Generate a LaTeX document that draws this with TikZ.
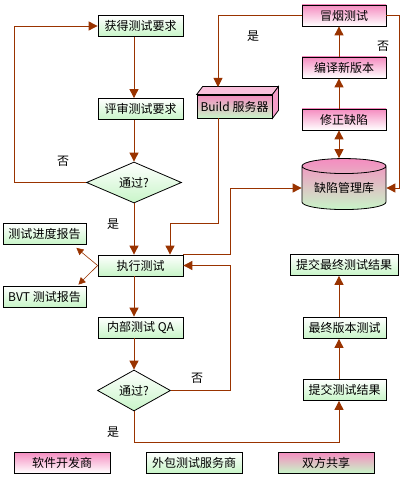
\documentclass[tikz,border=0pt]{standalone}
\usepackage{fontspec}
\setmainfont{Noto Sans CJK SC}
\usetikzlibrary{shapes.geometric,arrows.meta}
\definecolor{devpink}{HTML}{F58CC0}
\definecolor{testgreen}{HTML}{C8F5C8}
\definecolor{flowred}{HTML}{993300}
\begin{document}
\begin{tikzpicture}[x=1pt,y=-1pt,font=\fontsize{12}{14}\selectfont,
  box/.style={draw,line width=.8pt,minimum width=85pt,minimum height=21pt,inner sep=0pt},
  tester/.style={box,top color=white,bottom color=testgreen},
  dev/.style={box,top color=devpink,bottom color=white},
  shared/.style={box,top color=devpink,bottom color=testgreen},
  check/.style={diamond,draw,line width=.8pt,top color=white,bottom color=testgreen,inner sep=0pt,minimum height=41pt},
  flow/.style={draw=flowred,line width=.9pt,-{Triangle[width=9pt,length=9pt]}},
  flowboth/.style={draw=flowred,line width=.9pt,{Triangle[width=9pt,length=9pt]}-{Triangle[width=9pt,length=9pt]}},
  side/.style={draw=flowred,line width=.6pt,-{Triangle[width=7pt,length=7pt]}}]
\useasboundingbox[fill=white] (0,0) rectangle (402,481);
\coordinate (mainx) at (134,0);
\coordinate (rightcol) at (339,0);
\coordinate (loopx) at (14,0);
\coordinate (busx) at (230,0);
\coordinate (edgex) at (399,0);
\coordinate (buildtop) at (218,87);
\coordinate (buildturn) at (170,223);

\node[tester] (get) at (140.5,26) {获得测试要求};
\node[tester] (review) at (140.5,109) {评审测试要求};
\node[check,minimum width=95pt] (pass1) at (134,182.5) {通过?};
\node[tester] (exec) at (140.5,265.5) {执行测试};
\node[tester,minimum width=83pt] (progress) at (44.5,234) {测试进度报告};
\node[tester,minimum width=83pt] (bvt) at (44.5,296.5) {BVT 测试报告};
\node[tester] (qa) at (140.5,327.5) {内部测试 QA};
\node[check,minimum width=73pt] (pass2) at (134,390.5) {通过?};

\node[dev,minimum width=84pt] (smoke) at (344,15.5) {冒烟测试};
\node[dev,minimum width=84pt] (compile) at (344,67.5) {编译新版本};
\node[dev,minimum width=84pt] (fix) at (344,119.5) {修正缺陷};
\node[cylinder,shape border rotate=90,aspect=.25,draw,line width=.8pt,top color=devpink,bottom color=testgreen,
  minimum width=84pt,minimum height=51pt,inner sep=0pt] (db) at (344,188) {缺陷管理库};

\node[shared,minimum width=75pt,minimum height=23pt] (build) at (234.5,106.5) {Build 服务器};
\draw[line width=.8pt,fill=devpink!55] (build.north west) -- ++(6,-8) -- ([shift={(6,-8)}]build.north east) -- (build.north east) -- cycle;
\draw[line width=.8pt,fill=devpink!85] (build.north east) -- ++(6,-8) -- ([shift={(6,-8)}]build.south east) -- (build.south east) -- cycle;

\node[tester,minimum width=83pt] (submit) at (344.5,390) {提交测试结果};
\node[tester,minimum width=83pt] (final) at (344.5,328) {最终版本测试};
\node[tester,minimum width=108pt] (submitfinal) at (344,265) {提交最终测试结果};

\node[dev,minimum width=96pt] (legdev) at (62,462.5) {软件开发商};
\node[tester,minimum width=96pt] (legtest) at (194,462.5) {外包测试服务商};
\node[shared,minimum width=96pt] (legboth) at (326,462.5) {双方共享};

\draw[flow] (get.south -| mainx) -- (review.north -| mainx);
\draw[flow] (review.south -| mainx) -- (pass1.north);
\draw[flow] (pass1.west) -- (pass1.west -| loopx) |- (get.west);
\node (no1) at (63,161) {否};
\draw[flow] (pass1.south) -- (exec.north -| mainx);
\node (yes1) at (113,224) {是};
\draw[side] (exec.west) -- ([xshift=-10pt,yshift=-3pt]progress.south east);
\draw[side] (exec.west) -- ([xshift=-8pt,yshift=1pt]bvt.north east);
\draw[flow] (exec.south -| mainx) -- (qa.north -| mainx);
\draw[flow] (qa.south -| mainx) -- (pass2.north);
\draw[flow] (pass2.east) -- (pass2.east -| busx) |- (exec.east);
\node (no2) at (197,378) {否};
\draw[flow] (pass2.south) -- ++(0,31) -| (submit.south -| rightcol);
\node (yes2) at (113,432) {是};
\draw[flow] (submit.north -| rightcol) -- (final.south -| rightcol);
\draw[flow] (final.north -| rightcol) -- (submitfinal.south -| rightcol);

\draw[flow] (fix.north -| rightcol) -- (compile.south -| rightcol);
\draw[flow] (compile.north -| rightcol) -- (smoke.south -| rightcol);
\draw[flowboth] (fix.south -| rightcol) -- (db.north -| rightcol);
\draw[flow] (smoke.west) -| (buildtop);
\node (yes3) at (253,36) {是};
\draw[flow] (smoke.east) -- (smoke.east -| edgex) |- (db.east);
\node (no3) at (383,46) {否};
\draw[flow] (build.south -| buildtop) |- (buildturn) -- (buildturn |- exec.north);
\draw[flow] (exec.north east) -- (exec.north east -| busx) |- (db.west);
\end{tikzpicture}
\end{document}
